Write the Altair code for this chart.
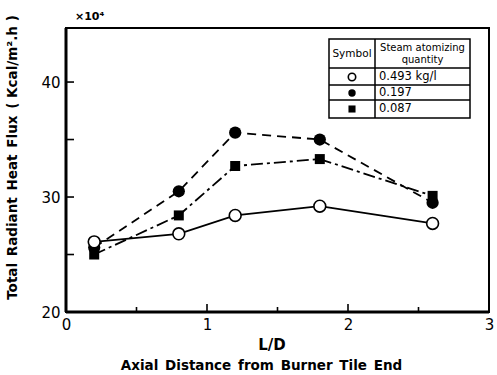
import altair as alt
import pandas as pd

# ---- data ----
LD = [0.2, 0.8, 1.2, 1.8, 2.6]
OPEN_493 = [26.1, 26.8, 28.4, 29.2, 27.7]
FILLED_197 = [25.6, 30.5, 35.6, 35.0, 29.5]
SQUARE_087 = [25.0, 28.4, 32.7, 33.3, 30.1]
SERIES = ["0.493 kg/l", "0.197", "0.087"]

X_LABELS = [0, 1, 2, 3]
Y_LABELS = [20, 30, 40]
X_MAJOR_TICKS = [1, 2]
X_MINOR_TICKS = [0.5, 1.5, 2.5]
Y_TICKS = [25, 30, 35, 40]

W, H = 423, 284
FONT = "DejaVu Sans"
SP = "\u2002"  # wide gap between words, as in the reference

X_TITLE_TOP = "L/D"
X_TITLE = SP.join(["Axial", "Distance", "from", "Burner", "Tile", "End"])
Y_TITLE = SP.join(["Total", "Radiant", "Heat", "Flux", "( Kcal/m².h )"])

rows = []
for name, vals in zip(SERIES, [OPEN_493, FILLED_197, SQUARE_087]):
    for x, y in zip(LD, vals):
        rows.append({"series": name, "ld": x, "q": y})
df = pd.DataFrame(rows)

xscale = alt.Scale(domain=[0, 3], nice=False, zero=False)
yscale = alt.Scale(domain=[20, 44.7], nice=False, zero=False)

x_axis = alt.Axis(values=X_LABELS, ticks=False, domain=False, grid=False, labelFlush=False,
                  labelFont=FONT, labelFontSize=15, labelColor="black", labelPadding=5,
                  title=X_TITLE, titleFont=FONT, titleFontSize=13.5, titleFontWeight="bold",
                  titleColor="black", titleX=195, titleY=53, titleAlign="center",
                  titleBaseline="middle", format="d")
y_axis = alt.Axis(values=Y_LABELS, ticks=False, domain=False, grid=False, labelFlush=False,
                  labelFont=FONT, labelFontSize=15, labelColor="black", labelPadding=6,
                  title=Y_TITLE, titleFont=FONT, titleFontSize=13.5, titleFontWeight="bold",
                  titleColor="black", titleX=-54, titleY=129, titleAngle=270,
                  titleAlign="center", titleBaseline="middle", format="d")

def sub(name):
    return alt.Chart(df).transform_filter(alt.datum.series == name)

X = alt.X("ld:Q", scale=xscale, axis=x_axis)
Y = alt.Y("q:Q", scale=yscale, axis=y_axis)

line_open = sub(SERIES[0]).mark_line(color="black", strokeWidth=1.8).encode(x=X, y=Y)
line_filled = sub(SERIES[1]).mark_line(color="black", strokeWidth=1.8, strokeDash=[9, 6]).encode(x=X, y=Y)
line_square = sub(SERIES[2]).mark_line(color="black", strokeWidth=1.8, strokeDash=[12, 4, 3, 4]).encode(x=X, y=Y)

pt_square = sub(SERIES[2]).mark_point(shape="square", filled=True, color="black", size=100, opacity=1).encode(x=X, y=Y)
pt_filled = sub(SERIES[1]).mark_point(shape="circle", filled=True, color="black", size=150, opacity=1).encode(x=X, y=Y)
pt_open = sub(SERIES[0]).mark_point(shape="circle", filled=False, fill="white", fillOpacity=1,
                                    stroke="black", strokeWidth=1.6, size=140, opacity=1).encode(x=X, y=Y)

# inward ticks
xt_major = alt.Chart(pd.DataFrame({"ld": X_MAJOR_TICKS})).mark_rule(color="black", strokeWidth=1.6).encode(
    x=X, y=alt.value(H), y2=alt.value(H - 8))
xt_minor = alt.Chart(pd.DataFrame({"ld": X_MINOR_TICKS})).mark_rule(color="black", strokeWidth=1.6).encode(
    x=X, y=alt.value(H), y2=alt.value(H - 5))
yt = alt.Chart(pd.DataFrame({"q": Y_TICKS})).mark_rule(color="black", strokeWidth=1.6).encode(
    y=Y, x=alt.value(0), x2=alt.value(8))

one = pd.DataFrame({"a": [0]})
def rule(x1, x2, y1, y2, w=1.5):
    return alt.Chart(one).mark_rule(color="black", strokeWidth=w).encode(
        x=alt.value(x1), x2=alt.value(x2), y=alt.value(y1), y2=alt.value(y2))

frame_left = rule(0, 0, 0, H, 3)
frame_bottom = rule(0, W, H, H, 3)

def text(s, x, y, size=11, align="left", weight="normal"):
    return alt.Chart(one).mark_text(text=s, font=FONT, fontSize=size, align=align,
                                    baseline="middle", fontWeight=weight, color="black").encode(
        x=alt.value(x), y=alt.value(y))

mult = text("×10⁴", 9, -11, size=11, weight="bold")
ld_title = text(X_TITLE_TOP, 206, 317, size=15, align="center", weight="bold")

# legend table
TL, TR, TT, TB, TC = 263, 404, 11, 90, 309
ROWS_Y = [40, 57, 72]
box = alt.Chart(one).mark_rect(fill="white", stroke="black", strokeWidth=1.5).encode(
    x=alt.value(TL), x2=alt.value(TR), y=alt.value(TT), y2=alt.value(TB))
table_lines = [rule(TL, TR, yy, yy) for yy in ROWS_Y] + [rule(TC, TC, TT, TB)]
table_text = [
    text("Symbol", (TL + TC) / 2, 26, size=10.5, align="center"),
    text("Steam atomizing", (TC + TR) / 2, 20, size=10, align="center"),
    text("quantity", (TC + TR) / 2, 32, size=10, align="center"),
    text(SERIES[0], TC + 4, 49, size=11.5),
    text(SERIES[1], TC + 4, 65, size=11.5),
    text(SERIES[2], TC + 4, 81, size=11.5),
]
SYM_X = (TL + TC) / 2
leg_open = alt.Chart(one).mark_point(shape="circle", filled=False, stroke="black", strokeWidth=1.6,
                                     size=55, opacity=1).encode(x=alt.value(SYM_X), y=alt.value(49))
leg_filled = alt.Chart(one).mark_point(shape="circle", filled=True, color="black", size=55,
                                       opacity=1).encode(x=alt.value(SYM_X), y=alt.value(65))
leg_square = alt.Chart(one).mark_point(shape="square", filled=True, color="black", size=50,
                                       opacity=1).encode(x=alt.value(SYM_X), y=alt.value(81))

chart = alt.layer(
    line_open, line_filled, line_square,
    xt_major, xt_minor, yt, frame_left, frame_bottom,
    pt_square, pt_filled, pt_open,
    box, *table_lines, *table_text, leg_open, leg_filled, leg_square,
    mult, ld_title,
).properties(
    width=W, height=H,
    background="white",
    autosize=alt.AutoSizeParams(type="none"),
    padding={"left": 66, "top": 28, "right": 8, "bottom": 63},
).configure_view(stroke="black", strokeWidth=2)

chart.save("out.html", embed_options={"renderer": "svg", "actions": False})
